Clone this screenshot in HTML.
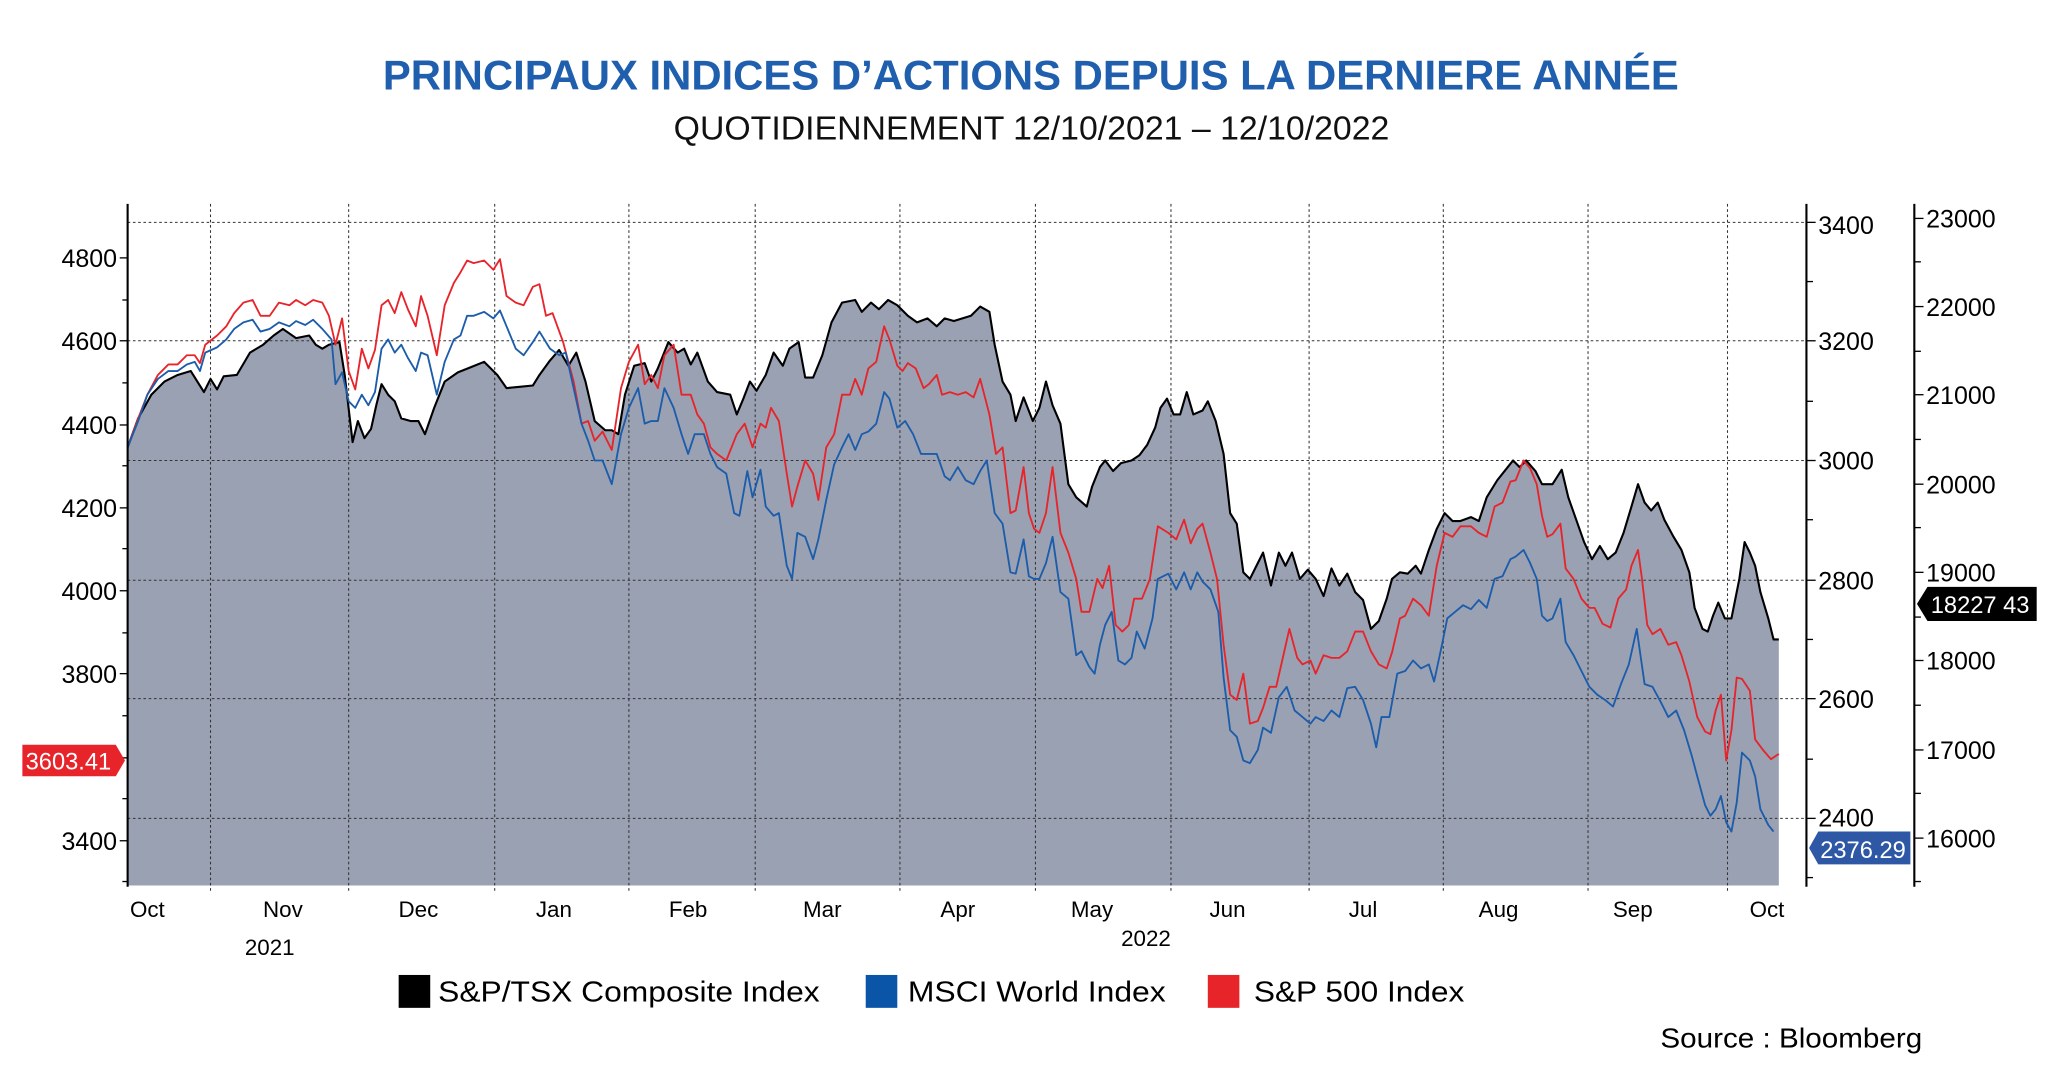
<!DOCTYPE html>
<html><head><meta charset="utf-8"><style>html,body{margin:0;padding:0;background:#fff;}svg{display:block}</style></head>
<body>
<svg width="2063" height="1081" viewBox="0 0 1568 821.6" preserveAspectRatio="none" xmlns="http://www.w3.org/2000/svg" font-family="Liberation Sans, sans-serif">
<rect width="1568" height="822" fill="#fff"/>
<text x="291" y="68" textLength="985" lengthAdjust="spacingAndGlyphs" font-size="32" font-weight="bold" fill="#1f5fae">PRINCIPAUX INDICES D’ACTIONS DEPUIS LA DERNIERE ANNÉE</text>
<text x="512" y="106" textLength="544" lengthAdjust="spacingAndGlyphs" font-size="25" fill="#111">QUOTIDIENNEMENT 12/10/2021 – 12/10/2022</text>

<polygon fill="#9aa1b2" stroke="none" points="97,673 97,340 105,318 115,300 125,290 135,285 145,282 150,290 155,298 160,288 165,296 170,286 180,285 190,268 200,262 208,255 215,250 225,257 235,255 240,262 245,265 250,262 258,260 262,285 268,336 272,320 277,333 282,326 286,308 290,292 295,300 300,305 305,318 312,320 318,320 323,330 330,310 338,290 348,283 358,279 368,275 378,285 385,295 395,294 405,293 410,285 418,274 425,266 432,278 438,268 445,290 452,320 460,327 465,327 470,330 475,300 482,278 490,276 495,290 500,280 508,260 515,268 520,265 525,277 530,268 538,290 545,298 555,300 560,315 565,303 570,290 575,297 582,285 588,268 595,278 600,265 607,260 612,287 618,287 625,270 632,245 640,230 650,228 655,237 662,230 668,235 675,228 682,232 690,240 697,245 705,242 712,248 718,242 725,244 738,240 745,233 752,237 756,262 762,290 768,300 772,320 778,302 785,320 790,310 795,290 800,308 806,322 812,368 818,378 826,385 830,370 836,355 840,350 846,358 852,352 860,350 866,346 872,338 878,325 882,310 887,303 892,315 897,315 902,298 907,315 914,312 918,305 924,320 930,345 935,390 940,398 945,435 950,440 955,430 960,420 966,445 972,420 977,430 982,420 988,440 994,433 1000,440 1006,453 1012,432 1018,445 1024,436 1030,450 1036,456 1042,478 1048,472 1054,455 1058,440 1064,435 1070,436 1076,430 1080,436 1086,418 1092,402 1098,390 1104,396 1110,396 1118,393 1124,396 1130,378 1138,365 1146,355 1150,350 1155,355 1160,350 1167,358 1172,368 1180,368 1187,357 1192,378 1198,395 1204,412 1210,425 1216,415 1222,425 1228,420 1234,405 1240,385 1245,368 1250,382 1255,388 1260,382 1265,395 1272,408 1278,418 1284,435 1288,462 1294,478 1298,480 1302,468 1306,458 1311,470 1316,470 1322,440 1326,412 1330,420 1334,430 1338,450 1344,470 1348,486 1352,486 1352,673"/>

<g stroke="#333" stroke-width="0.8" stroke-dasharray="2,2" fill="none">
<line x1="97" y1="169" x2="1373" y2="169"/>
<line x1="97" y1="259" x2="1373" y2="259"/>
<line x1="97" y1="350" x2="1373" y2="350"/>
<line x1="97" y1="441" x2="1373" y2="441"/>
<line x1="97" y1="531" x2="1373" y2="531"/>
<line x1="97" y1="622" x2="1373" y2="622"/>
<line x1="160" y1="155" x2="160" y2="678"/>
<line x1="265" y1="155" x2="265" y2="678"/>
<line x1="376" y1="155" x2="376" y2="678"/>
<line x1="478" y1="155" x2="478" y2="678"/>
<line x1="574" y1="155" x2="574" y2="678"/>
<line x1="684" y1="155" x2="684" y2="678"/>
<line x1="787" y1="155" x2="787" y2="678"/>
<line x1="890" y1="155" x2="890" y2="678"/>
<line x1="995" y1="155" x2="995" y2="678"/>
<line x1="1097" y1="155" x2="1097" y2="678"/>
<line x1="1207" y1="155" x2="1207" y2="678"/>
<line x1="1313" y1="155" x2="1313" y2="678"/>
</g>

<polyline fill="none" stroke="#000" stroke-width="1.6" stroke-linejoin="round" points="97,340 105,318 115,300 125,290 135,285 145,282 150,290 155,298 160,288 165,296 170,286 180,285 190,268 200,262 208,255 215,250 225,257 235,255 240,262 245,265 250,262 258,260 262,285 268,336 272,320 277,333 282,326 286,308 290,292 295,300 300,305 305,318 312,320 318,320 323,330 330,310 338,290 348,283 358,279 368,275 378,285 385,295 395,294 405,293 410,285 418,274 425,266 432,278 438,268 445,290 452,320 460,327 465,327 470,330 475,300 482,278 490,276 495,290 500,280 508,260 515,268 520,265 525,277 530,268 538,290 545,298 555,300 560,315 565,303 570,290 575,297 582,285 588,268 595,278 600,265 607,260 612,287 618,287 625,270 632,245 640,230 650,228 655,237 662,230 668,235 675,228 682,232 690,240 697,245 705,242 712,248 718,242 725,244 738,240 745,233 752,237 756,262 762,290 768,300 772,320 778,302 785,320 790,310 795,290 800,308 806,322 812,368 818,378 826,385 830,370 836,355 840,350 846,358 852,352 860,350 866,346 872,338 878,325 882,310 887,303 892,315 897,315 902,298 907,315 914,312 918,305 924,320 930,345 935,390 940,398 945,435 950,440 955,430 960,420 966,445 972,420 977,430 982,420 988,440 994,433 1000,440 1006,453 1012,432 1018,445 1024,436 1030,450 1036,456 1042,478 1048,472 1054,455 1058,440 1064,435 1070,436 1076,430 1080,436 1086,418 1092,402 1098,390 1104,396 1110,396 1118,393 1124,396 1130,378 1138,365 1146,355 1150,350 1155,355 1160,350 1167,358 1172,368 1180,368 1187,357 1192,378 1198,395 1204,412 1210,425 1216,415 1222,425 1228,420 1234,405 1240,385 1245,368 1250,382 1255,388 1260,382 1265,395 1272,408 1278,418 1284,435 1288,462 1294,478 1298,480 1302,468 1306,458 1311,470 1316,470 1322,440 1326,412 1330,420 1334,430 1338,450 1344,470 1348,486 1352,486"/>

<polyline fill="none" stroke="#e8242b" stroke-width="1.4" stroke-linejoin="round" points="97,340 105,318 112,300 120,285 128,277 135,277 142,270 148,270 152,276 156,262 165,255 172,248 178,238 185,230 192,228 198,240 205,240 212,230 220,232 225,228 232,232 238,228 245,230 250,240 255,262 260,242 265,282 270,296 275,265 280,280 285,266 290,232 295,228 300,238 305,222 310,235 316,248 320,225 325,240 332,270 338,232 345,215 350,207 355,198 360,200 368,198 375,205 380,197 385,225 392,230 398,232 405,218 410,216 415,240 420,238 428,260 436,290 442,322 447,320 452,335 458,328 465,342 472,295 478,275 485,262 490,292 495,285 500,295 505,270 512,262 518,300 525,300 530,315 535,322 540,340 545,345 552,350 560,330 566,322 572,340 578,322 582,325 586,310 592,320 598,360 602,385 606,370 612,350 618,360 622,380 628,340 634,330 640,300 646,300 650,288 655,300 660,280 666,275 672,248 676,258 682,278 686,282 690,276 696,280 702,295 706,292 712,285 716,300 722,298 728,300 734,298 740,302 745,288 752,315 757,345 762,340 768,390 772,388 778,355 782,390 786,402 790,405 795,390 800,355 806,405 812,420 818,440 822,465 828,465 834,440 838,447 843,430 848,475 853,480 858,475 862,455 868,455 874,440 880,400 888,405 894,410 900,395 905,413 910,402 914,398 920,420 925,440 930,490 935,528 940,532 945,512 950,550 956,548 960,538 965,522 970,522 975,500 980,478 986,500 990,505 996,502 1000,512 1006,498 1012,500 1018,500 1024,495 1030,480 1036,480 1042,495 1048,505 1054,508 1058,496 1064,470 1068,468 1074,455 1080,460 1086,468 1092,430 1098,405 1104,408 1110,400 1118,400 1124,405 1130,408 1136,385 1142,382 1148,366 1152,365 1158,350 1163,356 1168,368 1172,392 1176,408 1180,406 1186,398 1190,432 1196,440 1202,455 1208,462 1212,462 1218,474 1224,477 1230,455 1236,448 1240,430 1245,418 1248,440 1252,475 1256,482 1262,478 1268,490 1274,488 1278,498 1284,518 1290,545 1296,556 1300,558 1304,540 1308,528 1312,578 1316,555 1320,515 1324,516 1330,525 1334,562 1340,570 1346,577 1352,573"/>

<polyline fill="none" stroke="#1b5cab" stroke-width="1.4" stroke-linejoin="round" points="97,340 105,320 112,300 120,288 128,282 135,282 142,277 148,275 152,282 156,268 165,264 172,258 178,250 185,245 192,243 198,252 205,250 212,245 220,248 225,244 232,247 238,243 245,250 252,258 255,292 260,283 265,305 270,310 275,300 280,308 285,298 290,265 295,258 300,268 305,262 310,272 316,282 320,268 325,270 332,300 338,275 345,258 350,255 355,240 360,240 368,237 375,242 380,236 385,248 392,265 398,270 405,260 410,252 418,265 425,270 430,268 436,295 442,322 447,335 452,350 458,350 465,368 472,330 478,310 485,295 490,322 495,320 500,320 505,295 512,310 518,330 523,345 528,330 535,330 540,345 545,355 552,360 558,390 562,392 568,358 572,378 578,357 582,385 588,392 592,390 598,430 602,440 606,405 612,408 618,425 622,410 628,380 634,353 640,340 645,330 650,342 655,330 660,328 666,322 672,298 676,303 682,325 688,320 694,330 700,345 706,345 712,345 718,362 722,365 728,355 734,365 740,368 745,358 750,350 756,390 762,398 768,435 772,436 778,410 782,438 786,440 790,440 795,428 800,408 806,450 812,455 818,498 822,495 828,507 832,512 836,490 840,475 845,465 850,502 855,505 860,500 864,480 870,493 876,470 880,440 888,436 894,448 900,435 905,448 910,435 914,442 920,448 926,465 930,515 935,555 940,560 945,578 950,580 956,570 960,553 966,557 972,530 978,522 984,540 990,545 996,550 1000,545 1006,548 1012,540 1018,545 1024,523 1030,522 1036,532 1042,550 1046,568 1050,545 1056,545 1062,512 1068,510 1074,502 1080,508 1086,505 1090,518 1096,490 1100,470 1106,465 1112,460 1118,463 1124,456 1130,462 1136,440 1142,438 1148,425 1152,423 1158,418 1163,428 1168,440 1172,468 1176,472 1180,470 1186,455 1190,488 1196,498 1202,510 1208,522 1214,528 1220,532 1226,537 1232,520 1238,505 1244,478 1250,520 1256,522 1262,533 1268,545 1274,540 1280,555 1286,575 1290,590 1296,612 1300,620 1304,615 1308,605 1312,625 1316,632 1320,610 1324,572 1330,578 1334,590 1338,615 1344,627 1348,632"/>

<g stroke="#000" stroke-width="1.6">
<line x1="97" y1="155" x2="97" y2="674"/>
<line x1="1373" y1="155" x2="1373" y2="674"/>
<line x1="1455" y1="155" x2="1455" y2="674"/>
</g>
<g stroke="#000" stroke-width="1">
<line x1="91" y1="196" x2="97" y2="196"/><line x1="93" y1="228" x2="97" y2="228"/>
<line x1="91" y1="259" x2="97" y2="259"/><line x1="93" y1="291" x2="97" y2="291"/>
<line x1="91" y1="323" x2="97" y2="323"/><line x1="93" y1="354" x2="97" y2="354"/>
<line x1="91" y1="386" x2="97" y2="386"/><line x1="93" y1="417" x2="97" y2="417"/>
<line x1="91" y1="449" x2="97" y2="449"/><line x1="93" y1="481" x2="97" y2="481"/>
<line x1="91" y1="512" x2="97" y2="512"/><line x1="93" y1="544" x2="97" y2="544"/>
<line x1="93" y1="576" x2="97" y2="576"/><line x1="93" y1="607" x2="97" y2="607"/>
<line x1="91" y1="639" x2="97" y2="639"/><line x1="93" y1="670" x2="97" y2="670"/>
<line x1="1373" y1="169" x2="1380" y2="169"/><line x1="1373" y1="214" x2="1378" y2="214"/>
<line x1="1373" y1="259" x2="1380" y2="259"/><line x1="1373" y1="305" x2="1378" y2="305"/>
<line x1="1373" y1="350" x2="1380" y2="350"/><line x1="1373" y1="395" x2="1378" y2="395"/>
<line x1="1373" y1="441" x2="1380" y2="441"/><line x1="1373" y1="486" x2="1378" y2="486"/>
<line x1="1373" y1="531" x2="1380" y2="531"/><line x1="1373" y1="577" x2="1378" y2="577"/>
<line x1="1373" y1="622" x2="1380" y2="622"/><line x1="1373" y1="667" x2="1378" y2="667"/>
<line x1="1455" y1="166" x2="1462" y2="166"/><line x1="1455" y1="199" x2="1460" y2="199"/>
<line x1="1455" y1="233" x2="1462" y2="233"/><line x1="1455" y1="267" x2="1460" y2="267"/>
<line x1="1455" y1="300" x2="1462" y2="300"/><line x1="1455" y1="334" x2="1460" y2="334"/>
<line x1="1455" y1="368" x2="1462" y2="368"/><line x1="1455" y1="401" x2="1460" y2="401"/>
<line x1="1455" y1="435" x2="1462" y2="435"/><line x1="1455" y1="469" x2="1460" y2="469"/>
<line x1="1455" y1="502" x2="1462" y2="502"/><line x1="1455" y1="536" x2="1460" y2="536"/>
<line x1="1455" y1="570" x2="1462" y2="570"/><line x1="1455" y1="603" x2="1460" y2="603"/>
<line x1="1455" y1="637" x2="1462" y2="637"/><line x1="1455" y1="670" x2="1460" y2="670"/>
</g>
<g font-size="19" fill="#000" text-anchor="end">
<text x="89" y="203">4800</text><text x="89" y="266">4600</text><text x="89" y="330">4400</text>
<text x="89" y="393">4200</text><text x="89" y="456">4000</text><text x="89" y="519">3800</text>
<text x="89" y="646">3400</text>
</g>
<g font-size="19" fill="#000">
<text x="1382" y="178">3400</text><text x="1382" y="266">3200</text><text x="1382" y="357">3000</text>
<text x="1382" y="448">2800</text><text x="1382" y="538">2600</text><text x="1382" y="628">2400</text>
<text x="1464" y="173">23000</text><text x="1464" y="240">22000</text><text x="1464" y="307">21000</text>
<text x="1464" y="375">20000</text><text x="1464" y="442">19000</text><text x="1464" y="509">18000</text>
<text x="1464" y="577">17000</text><text x="1464" y="644">16000</text>
</g>
<polygon points="17,566 88,566 95,578 88,590 17,590" fill="#e8242b"/>
<text x="52" y="585" font-size="18" fill="#fff" text-anchor="middle">3603.41</text>
<polygon points="1382,632 1452,632 1452,657 1382,657 1375,644.5" fill="#2e57a6"/>
<text x="1416" y="652" font-size="18" fill="#fff" text-anchor="middle">2376.29</text>
<polygon points="1465,446 1548,446 1548,472 1465,472 1457,459" fill="#000"/>
<text x="1505" y="466" font-size="18" fill="#fff" text-anchor="middle">18227 43</text>
<g font-size="17" fill="#000" text-anchor="middle">
<text x="112" y="697">Oct</text><text x="215" y="697">Nov</text><text x="318" y="697">Dec</text>
<text x="421" y="697">Jan</text><text x="523" y="697">Feb</text><text x="625" y="697">Mar</text>
<text x="728" y="697">Apr</text><text x="830" y="697">May</text><text x="933" y="697">Jun</text>
<text x="1036" y="697">Jul</text><text x="1139" y="697">Aug</text><text x="1241" y="697">Sep</text>
<text x="1343" y="697">Oct</text>
<text x="205" y="726">2021</text><text x="871" y="719">2022</text>
</g>
<rect x="303" y="741" width="24" height="25" fill="#000"/>
<text x="333" y="761" font-size="22" textLength="290" lengthAdjust="spacingAndGlyphs" fill="#000">S&amp;P/TSX Composite Index</text>
<rect x="658" y="741" width="24" height="25" fill="#0a55a8"/>
<text x="690" y="761" font-size="22" textLength="196" lengthAdjust="spacingAndGlyphs" fill="#000">MSCI World Index</text>
<rect x="918" y="741" width="24" height="25" fill="#e8242b"/>
<text x="953" y="761" font-size="22" textLength="160" lengthAdjust="spacingAndGlyphs" fill="#000">S&amp;P 500 Index</text>
<text x="1262" y="796" font-size="21" textLength="199" lengthAdjust="spacingAndGlyphs" fill="#000">Source : Bloomberg</text>
</svg>
</body></html>
